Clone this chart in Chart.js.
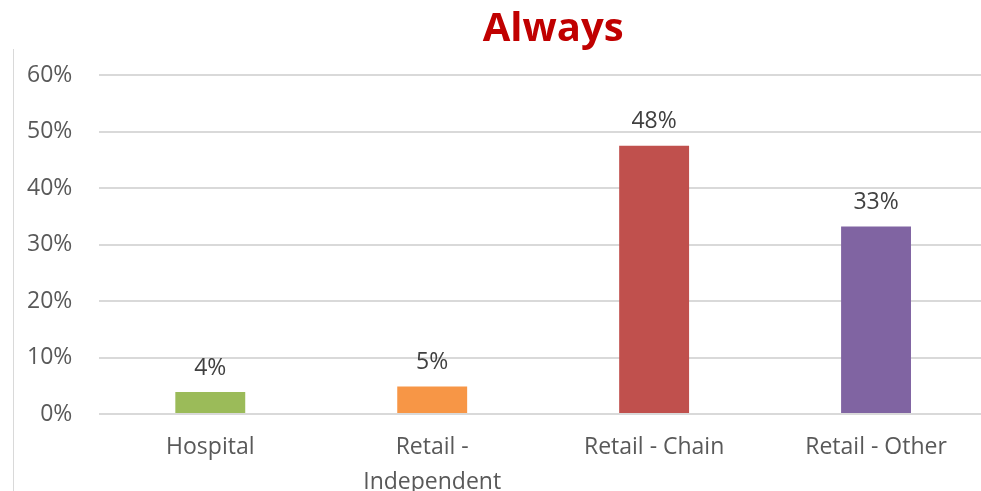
<!DOCTYPE html>
<html>
<head>
<meta charset="utf-8">
<script src="https://cdn.jsdelivr.net/npm/chart.js@4.4.1/dist/chart.umd.min.js"></script>
<style>
    html, body { margin: 0; padding: 0; background: #ffffff; overflow: hidden; }
    body { width: 981px; height: 491px; position: relative; }
    #frame { position: absolute; left: 0; top: 0; width: 987px; height: 508px; }
    #edge { position: absolute; left: 13px; top: 49px; width: 1px; height: 442px; background: #d9d9d9; }
</style>
</head>
<body>
<div id="frame"><canvas id="alwaysChart"></canvas></div>
<div id="edge"></div>
<script>
// Share answering "Always", by pharmacy setting
const categories = ['Hospital', ['Retail -', 'Independent'], 'Retail - Chain', 'Retail - Other'];
const alwaysValues = [3.9, 4.9, 47.5, 33.2];
const barColors = ['#9bbb59', '#f79646', '#c0504d', '#8064a2'];
const yTicks = [0, 10, 20, 30, 40, 50, 60];

const fontFamily = '"Open Sans", "DejaVu Sans", sans-serif';

// Percent labels drawn just above each bar
const valueLabels = {
    id: 'valueLabels',
    afterDatasetsDraw(chart) {
        const ctx = chart.ctx;
        const meta = chart.getDatasetMeta(0);
        ctx.save();
        ctx.font = '23px ' + fontFamily;
        ctx.fillStyle = '#404040';
        ctx.textAlign = 'center';
        ctx.textBaseline = 'middle';
        meta.data.forEach((bar, i) => {
            ctx.fillText(Math.round(alwaysValues[i]) + '%', bar.x, bar.y - 24);
        });
        ctx.restore();
    }
};

// Title sits centred on the whole frame, a bit right of the plot centre
const titleShift = {
    id: 'titleShift',
    afterLayout(chart) {
        chart.titleBlock.left += 10;
        chart.titleBlock.right += 10;
    }
};

function initChart() {
    const ctx = document.getElementById('alwaysChart');
    new Chart(ctx, {
        type: 'bar',
        data: {
            labels: categories,
            datasets: [{
                data: alwaysValues,
                backgroundColor: barColors,
                borderWidth: 0,
                categoryPercentage: 1,
                barPercentage: 0.315
            }]
        },
        options: {
            responsive: true,
            maintainAspectRatio: false,
            animation: false,
            layout: {
                padding: 0
            },
            plugins: {
                legend: { display: false },
                tooltip: { enabled: false },
                title: {
                    display: true,
                    fullSize: false,
                    text: 'Always',
                    color: '#c00000',
                    font: { family: fontFamily, size: 40, weight: 'bold', lineHeight: 1.2 },
                    padding: { top: 6, bottom: 21 }
                }
            },
            scales: {
                x: {
                    grid: { display: false },
                    border: { display: false },
                    ticks: {
                        color: '#595959',
                        font: { family: fontFamily, size: 23, lineHeight: 1.52 },
                        padding: 8,
                        maxRotation: 0,
                        autoSkip: false
                    }
                },
                y: {
                    min: 0,
                    max: 60,
                    afterBuildTicks(axis) {
                        axis.ticks = yTicks.map(v => ({ value: v }));
                    },
                    grid: { color: '#d9d9d9', lineWidth: 2, drawTicks: false },
                    border: { display: false },
                    ticks: {
                        color: '#595959',
                        font: { family: fontFamily, size: 23 },
                        padding: 27,
                        callback: v => v + '%'
                    }
                }
            }
        },
        plugins: [valueLabels, titleShift]
    });
}

document.addEventListener('DOMContentLoaded', initChart);
</script>
</body>
</html>
